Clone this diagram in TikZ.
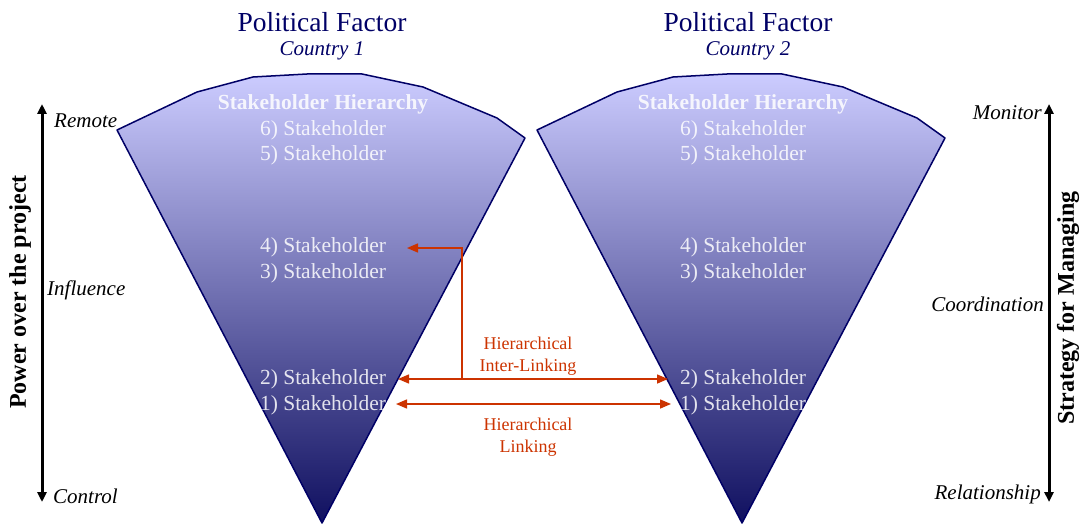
\documentclass[tikz,border=0pt]{standalone}
\usepackage{fontspec}
\setmainfont{Liberation Serif}
\usetikzlibrary{arrows.meta}
\definecolor{navy}{HTML}{000066}
\definecolor{linkred}{HTML}{CC3300}
\definecolor{fantop}{HTML}{CCCCFF}
\definecolor{fanmid}{HTML}{9A9ACE}
\definecolor{fanbot}{HTML}{101060}

\begin{document}
\begin{tikzpicture}[x=1pt,y=-1pt,
    fan/.style={draw=navy, line width=1.5pt, line join=round,
        top color=fantop, middle color=fanmid, bottom color=fanbot},
    holder/.style={text=white, text opacity=0.85, inner sep=1pt,
        font=\fontsize{21.5}{24}\selectfont},
    title/.style={text=navy, font=\fontsize{27.5}{30}\selectfont},
    country/.style={text=navy, font=\fontsize{21}{24}\selectfont\itshape},
    side/.style={inner sep=1pt, font=\fontsize{21}{24}\selectfont\itshape},
    axis/.style={line width=3pt, {Triangle[length=10pt,width=9pt]}-{Triangle[length=10pt,width=9pt]}},
    axistitle/.style={rotate=90, font=\fontsize{24}{26}\selectfont\bfseries},
    link/.style={draw=linkred, line width=1.5pt},
    linklabel/.style={text=linkred, align=center, font=\fontsize{18}{22}\selectfont}]
    \useasboundingbox (0,0) rectangle (1083,524);

    % the two stakeholder fans
    \foreach \c/\dx/\tx in {1/0/322,2/420/748}{
        \begin{scope}[shift={(\dx,0)}]
            \shadedraw[fan] (117,130) -- (197,92) -- (253,77) -- (307,74) -- (362,74)
                -- (423,87) -- (497,118) -- (525,138) -- (322,523) -- cycle;
            \node[holder, font=\fontsize{21.5}{24}\selectfont\bfseries] (sh\c) at (323,104) {Stakeholder Hierarchy};
            \foreach \k/\y in {6/130,5/155,4/247,3/273,2/379,1/405}
                \node[holder] (s\c\k) at (323,\y) {\k) Stakeholder};
        \end{scope}
        \node[title] (pf\c) at (\tx,22) {Political Factor};
        \node[country] (cty\c) at (\tx,51) {Country \c};
    }

    % left axis
    \coordinate (ltop) at (42,104);
    \coordinate (lbot) at (42,502);
    \draw[axis] (ltop) -- (lbot);
    \node[axistitle] (power) at (20,292) {Power over the project};
    \node[side, anchor=west] (remote) at (53,121) {Remote};
    \node[side, anchor=west] (influence) at (46,290) {Influence};
    \node[side, anchor=west] (control) at (52,496) {Control};

    % right axis
    \coordinate (rtop) at (1049,104);
    \coordinate (rbot) at (1049,502);
    \draw[axis] (rtop) -- (rbot);
    \node[axistitle] (strategy) at (1068,308) {Strategy for Managing};
    \node[side, anchor=east] (monitor) at (1043,113) {Monitor};
    \node[side, anchor=east] (coord) at (1045,304) {Coordination};
    \node[side, anchor=east] (relation) at (1042,494) {Relationship};

    % links between the hierarchies
    \coordinate (ila) at (398,379);
    \coordinate (ilb) at (668,379);
    \coordinate (lka) at (396,404);
    \coordinate (lkb) at (671,404);
    \coordinate (join) at (462,379);
    \coordinate (up4) at (407,248);
    \draw[link, {Triangle[length=11pt,width=9pt]}-{Triangle[length=11pt,width=9pt]}] (ila) -- (ilb);
    \draw[link, {Triangle[length=11pt,width=9pt]}-{Triangle[length=11pt,width=9pt]}] (lka) -- (lkb);
    \draw[link, -{Triangle[length=11pt,width=9pt]}] (join) |- (up4);
    \node[linklabel] (inter) at (528,356) {Hierarchical\\Inter-Linking};
    \node[linklabel] (linking) at (528,437) {Hierarchical\\Linking};
\end{tikzpicture}
\end{document}
